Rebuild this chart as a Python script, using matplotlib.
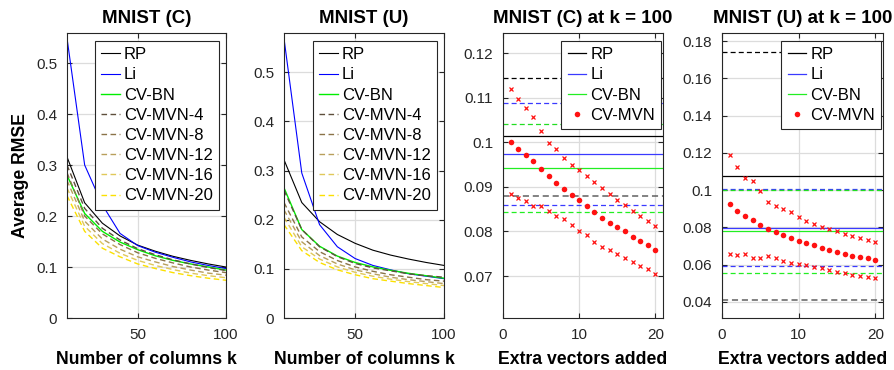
import numpy as np
import matplotlib
matplotlib.use("Agg")
import matplotlib.pyplot as plt
from matplotlib.ticker import FuncFormatter

plt.rcParams['font.family'] = ['Liberation Sans', 'DejaVu Sans']

# ---------------- data ----------------
k = [10, 20, 30, 40, 50, 60, 70, 80, 90, 100]

c_rp = [0.316, 0.226, 0.186, 0.161, 0.143, 0.131, 0.121, 0.113, 0.106, 0.100]
c_li = [0.549, 0.300, 0.222, 0.166, 0.142, 0.129, 0.119, 0.110, 0.103, 0.097]
c_bn = [0.280, 0.205, 0.170, 0.149, 0.134, 0.122, 0.113, 0.106, 0.100, 0.094]
c_mvn4 = [0.300, 0.215, 0.176, 0.153, 0.136, 0.124, 0.114, 0.106, 0.099, 0.093]
c_mvn8 = [0.285, 0.200, 0.165, 0.144, 0.128, 0.117, 0.108, 0.100, 0.094, 0.089]
c_mvn12 = [0.270, 0.190, 0.155, 0.135, 0.120, 0.110, 0.101, 0.094, 0.088, 0.084]
c_mvn16 = [0.255, 0.180, 0.146, 0.127, 0.113, 0.103, 0.095, 0.088, 0.083, 0.079]
c_mvn20 = [0.240, 0.170, 0.137, 0.120, 0.106, 0.097, 0.089, 0.083, 0.078, 0.074]

u_rp = [0.322, 0.235, 0.196, 0.170, 0.152, 0.138, 0.128, 0.120, 0.113, 0.107]
u_li = [0.569, 0.295, 0.190, 0.145, 0.121, 0.107, 0.098, 0.090, 0.085, 0.080]
u_bn = [0.265, 0.180, 0.146, 0.126, 0.113, 0.104, 0.097, 0.091, 0.086, 0.081]
u_mvn4 = [0.260, 0.180, 0.145, 0.125, 0.111, 0.102, 0.096, 0.090, 0.086, 0.083]
u_mvn8 = [0.235, 0.165, 0.135, 0.117, 0.104, 0.095, 0.088, 0.083, 0.078, 0.075]
u_mvn12 = [0.220, 0.155, 0.127, 0.110, 0.098, 0.090, 0.083, 0.078, 0.074, 0.070]
u_mvn16 = [0.205, 0.145, 0.120, 0.104, 0.093, 0.085, 0.079, 0.074, 0.070, 0.066]
u_mvn20 = [0.190, 0.137, 0.113, 0.098, 0.088, 0.080, 0.075, 0.070, 0.066, 0.062]

extra = list(range(1, 21))

# MNIST (C) at k = 100: baselines (mean, upper, lower)
c100_rp = [0.1013, 0.1144, 0.0880]
c100_li = [0.0974, 0.1088, 0.0860]
c100_bn = [0.0942, 0.1041, 0.0843]
c100_mean = [0.1000, 0.0985, 0.0972, 0.0957, 0.0941, 0.0924, 0.0909, 0.0895, 0.0882, 0.0870,
             0.0856, 0.0844, 0.0831, 0.0820, 0.0809, 0.0800, 0.0788, 0.0779, 0.0769, 0.0758]
c100_up = [0.1119, 0.1096, 0.1076, 0.1056, 0.1026, 0.0999, 0.0984, 0.0965, 0.0950, 0.0938,
           0.0925, 0.0911, 0.0897, 0.0883, 0.0871, 0.0859, 0.0845, 0.0835, 0.0824, 0.0812]
c100_lo = [0.0883, 0.0875, 0.0868, 0.0858, 0.0856, 0.0847, 0.0835, 0.0827, 0.0814, 0.0801,
           0.0791, 0.0776, 0.0766, 0.0758, 0.0749, 0.0740, 0.0731, 0.0723, 0.0715, 0.0704]

# MNIST (U) at k = 100
u100_rp = [0.1078, 0.1739, 0.0413]
u100_li = [0.0799, 0.1004, 0.0594]
u100_bn = [0.0781, 0.1002, 0.0558]
u100_mean = [0.0924, 0.0888, 0.0862, 0.0838, 0.0812, 0.0790, 0.0774, 0.0758, 0.0744, 0.0729,
             0.0717, 0.0703, 0.0692, 0.0679, 0.0670, 0.0660, 0.0649, 0.0642, 0.0635, 0.0626]
u100_up = [0.1187, 0.1124, 0.1067, 0.1048, 0.0994, 0.0939, 0.0917, 0.0897, 0.0880, 0.0855,
           0.0837, 0.0819, 0.0803, 0.0789, 0.0780, 0.0767, 0.0755, 0.0742, 0.0733, 0.0721]
u100_lo = [0.0660, 0.0653, 0.0656, 0.0635, 0.0635, 0.0647, 0.0635, 0.0620, 0.0610, 0.0604,
           0.0597, 0.0590, 0.0583, 0.0572, 0.0563, 0.0554, 0.0547, 0.0542, 0.0536, 0.0527]

mvn_labels = ['CV-MVN-4', 'CV-MVN-8', 'CV-MVN-12', 'CV-MVN-16', 'CV-MVN-20']
mvn_colors = ['#5e4f3c', '#8a7348', '#b89f5c', '#e0c85a', '#fbe000']

# ---------------- style helpers ----------------
W, H = 894, 370
fig = plt.figure(figsize=(W / 100, H / 100), dpi=100)

def px_axes(l, r, t, b):
    return fig.add_axes([l / W, 1 - b / H, (r - l) / W, (b - t) / H])

def matlab_fmt(v, pos):
    s = ('%.4f' % v).rstrip('0').rstrip('.')
    return s if s not in ('-0',) else '0'

def style(ax):
    ax.grid(True, color='#dcdcdc', linewidth=0.9)
    ax.set_axisbelow(True)
    ax.tick_params(direction='in', length=3.5, width=0.8, top=True, right=True,
                   labelsize=11, colors='#262626', pad=7)
    for s in ax.spines.values():
        s.set_color('#262626')
        s.set_linewidth(0.8)
    ax.yaxis.set_major_formatter(FuncFormatter(matlab_fmt))

leg_kw = dict(fontsize=12, handlelength=1.1, handletextpad=0.25, labelspacing=0.31,
              borderpad=0.38, borderaxespad=0.0, fancybox=False, framealpha=1,
              edgecolor='#262626', loc='upper right')

LBL = 12.7
TTL = 13.5

def left_panel(ax, rp, li, bn, mvns, title, ylim):
    ax.plot(k, rp, color='black', lw=0.8, label='RP')
    ax.plot(k, li, color='#0000ff', lw=0.8, label='Li')
    ax.plot(k, bn, color='#00ee00', lw=1.0, label='CV-BN')
    for vals, lab, col in zip(mvns, mvn_labels, mvn_colors):
        ax.plot(k, vals, color=col, lw=1.0, ls=(0, (4, 2.5)), label=lab)
    ax.set_xlim(10, 100)
    ax.set_ylim(*ylim)
    ax.set_xticks([50, 100])
    ax.set_yticks([0, 0.1, 0.2, 0.3, 0.4, 0.5])
    style(ax)
    ax.set_title(title, fontsize=TTL, fontweight='bold', pad=7)
    ax.set_xlabel('Number of columns k', fontsize=LBL, fontweight='bold', labelpad=7)
    leg = ax.legend(bbox_to_anchor=(0.956, 0.972), **leg_kw)
    leg.get_frame().set_linewidth(0.8)

def right_panel(ax, rp, li, bn, mean, up, lo, title, ylim, yticks):
    ax.axhline(rp[0], color='black', lw=0.9, label='RP')
    ax.axhline(rp[1], color='black', lw=0.9, ls=(0, (4, 2.5)))
    ax.axhline(rp[2], color='#606060', lw=1.1, ls=(0, (4, 2.5)))
    ax.axhline(li[0], color='#3a3aff', lw=0.9, label='Li')
    ax.axhline(li[1], color='#3a3aff', lw=0.9, ls=(0, (4, 2.5)))
    ax.axhline(li[2], color='#3a3aff', lw=0.9, ls=(0, (4, 2.5)))
    ax.axhline(bn[0], color='#22ee22', lw=0.9, label='CV-BN')
    ax.axhline(bn[1], color='#22dd22', lw=0.9, ls=(0, (4, 2.5)))
    ax.axhline(bn[2], color='#22ee22', lw=0.9, ls=(0, (4, 2.5)))
    ax.plot(extra, mean, ls='none', marker='o', ms=4, color='#ff1111', mec='none', label='CV-MVN')
    ax.plot(extra, up, ls='none', marker='x', ms=3, mew=0.9, color='#ff1111')
    ax.plot(extra, lo, ls='none', marker='x', ms=3, mew=0.9, color='#ff1111')
    ax.set_xlim(0, 21)
    ax.set_ylim(*ylim)
    ax.set_xticks([0, 10, 20])
    ax.set_yticks(yticks)
    style(ax)
    ax.set_title(title, fontsize=TTL, fontweight='bold', pad=7)
    ax.set_xlabel('Extra vectors added', fontsize=LBL, fontweight='bold', labelpad=7)
    leg = ax.legend(bbox_to_anchor=(0.99, 0.972), **leg_kw)
    leg.get_frame().set_linewidth(0.8)

ax1 = px_axes(67, 226, 33, 318)
left_panel(ax1, c_rp, c_li, c_bn, [c_mvn4, c_mvn8, c_mvn12, c_mvn16, c_mvn20],
           'MNIST (C)', (0, 0.559))
ax1.set_ylabel('Average RMSE', fontsize=LBL, fontweight='bold', labelpad=5)

ax2 = px_axes(284, 444, 33, 318)
left_panel(ax2, u_rp, u_li, u_bn, [u_mvn4, u_mvn8, u_mvn12, u_mvn16, u_mvn20],
           'MNIST (U)', (0, 0.58))

ax3 = px_axes(503, 663, 33, 318)
right_panel(ax3, c100_rp, c100_li, c100_bn, c100_mean, c100_up, c100_lo,
            'MNIST (C) at k = 100', (0.0606, 0.1245),
            [0.07, 0.08, 0.09, 0.10, 0.11, 0.12])

ax4 = px_axes(722, 883, 33, 318)
right_panel(ax4, u100_rp, u100_li, u100_bn, u100_mean, u100_up, u100_lo,
            'MNIST (U) at k = 100', (0.0314, 0.1843),
            [0.04, 0.06, 0.08, 0.10, 0.12, 0.14, 0.16, 0.18])

fig.savefig('out.png', dpi=100)
